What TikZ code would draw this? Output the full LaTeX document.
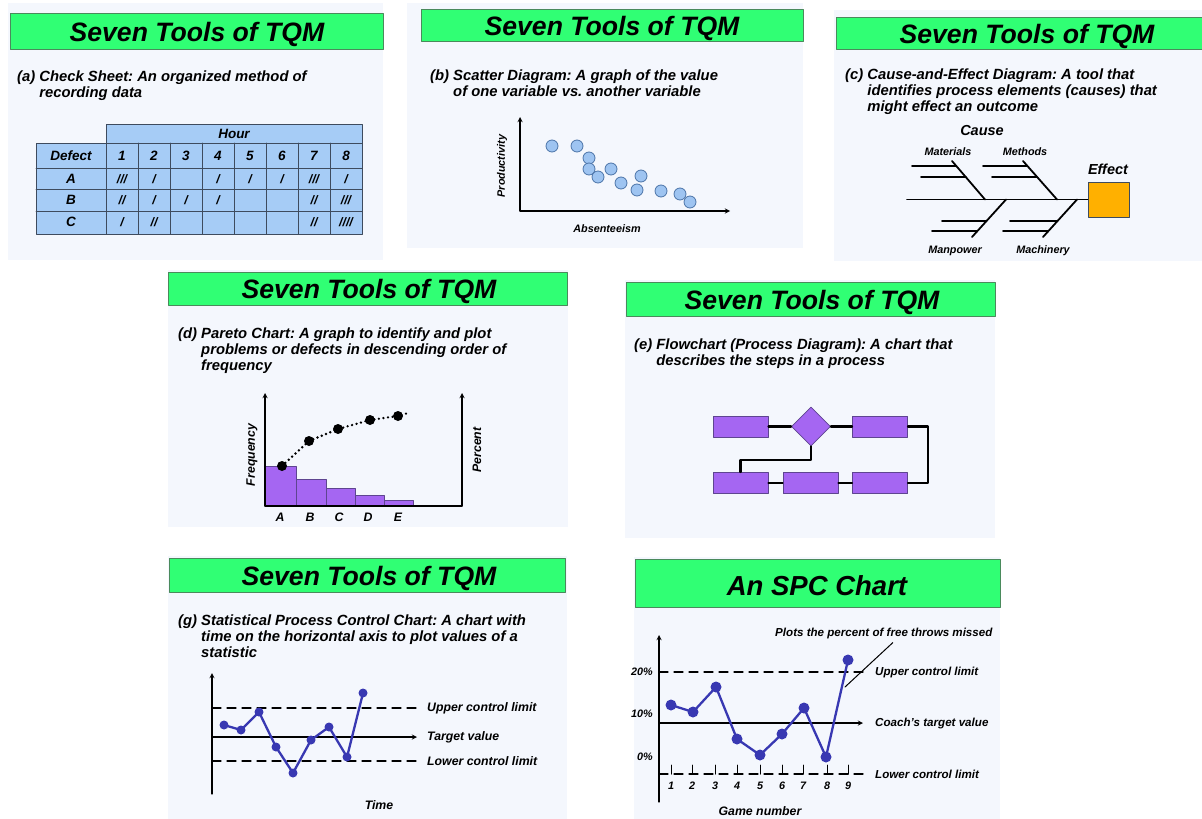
\documentclass[tikz,border=0pt]{standalone}
\usepackage{fontspec}
\setmainfont{Liberation Sans}
\usetikzlibrary{shapes.geometric}
\definecolor{tqmgreen}{HTML}{30FF74}
\definecolor{bargreen}{HTML}{4A8A5C}
\definecolor{panelbg}{HTML}{F4F7FD}
\definecolor{cellblue}{HTML}{A6CCF6}
\definecolor{gridgray}{HTML}{3E4B5E}
\definecolor{scatfill}{HTML}{9EC4F1}
\definecolor{scatedge}{HTML}{4C74A8}
\definecolor{effectorange}{HTML}{FFB000}
\definecolor{paretopurple}{HTML}{A566F2}
\definecolor{flowedge}{HTML}{5E4590}
\definecolor{spcblue}{HTML}{3838B2}
\frenchspacing
\begin{document}
\begin{tikzpicture}[x=1pt, y=-1pt, line join=round, line cap=round, >=stealth,
	panel/.style={fill=panelbg},
	bar/.style={fill=tqmgreen, draw=bargreen, line width=0.8pt},
	ttl/.style={font=\fontsize{26.6}{27}\selectfont\bfseries\itshape},
	desc/.style={font=\fontsize{14.8}{15.6}\selectfont\bfseries\itshape, align=left, anchor=north west, inner sep=0pt},
	lbl/.style={font=\fontsize{12.3}{13}\selectfont\bfseries\itshape, inner sep=0pt},
	small/.style={font=\fontsize{10.8}{12}\selectfont\bfseries\itshape, inner sep=0pt},
	side/.style={font=\fontsize{11.6}{12}\selectfont\bfseries\itshape, inner sep=0pt, anchor=west},
	cell/.style={font=\fontsize{13.5}{13.5}\selectfont\bfseries\itshape, inner sep=0pt},
	tbl/.style={draw=gridgray, line width=0.9pt},
	axis/.style={line width=1.3pt},
	lim/.style={line width=1.3pt, dash pattern=on 9pt off 6pt},
	bone/.style={line width=1.8pt},
	spc/.style={spcblue, line width=2.3pt},
	fbox/.style={draw=flowedge, fill=paretopurple, line width=0.8pt, minimum width=55pt, minimum height=21pt, inner sep=0pt},
	flow/.style={line width=2.1pt}]
	\useasboundingbox (0,0) rectangle (1202,819);
	% panel backgrounds
	\fill[panel] (8,3) rectangle (383,260);
	\fill[panel] (407,3) rectangle (803,248);
	\fill[panel] (834,10) rectangle (1202,261);
	\fill[panel] (168,270) rectangle (568,527);
	\fill[panel] (625,280) rectangle (995,538);
	\fill[panel] (168,556) rectangle (567,819);
	\fill[panel] (634,557) rectangle (1000,819);
	% title bars
	\draw[bar] (10,13) rectangle (383,49);
	\draw[bar] (421,9) rectangle (803,41);
	\draw[bar] (836,17) rectangle (1202,49);
	\draw[bar] (168,272) rectangle (567,305);
	\draw[bar] (626,282) rectangle (995,316);
	\draw[bar] (169,558) rectangle (565,592);
	\draw[bar] (635,559) rectangle (1000,607);
	\node[ttl] (ta) at (197,34) {Seven Tools of TQM};
	\node[ttl] (tb) at (612,28) {Seven Tools of TQM};
	\node[ttl] (tc) at (1027,36) {Seven Tools of TQM};
	\node[ttl] (td) at (369,291) {Seven Tools of TQM};
	\node[ttl] (te) at (812,302) {Seven Tools of TQM};
	\node[ttl] (tg) at (369,578) {Seven Tools of TQM};
	\node[ttl, font=\fontsize{27.5}{28}\selectfont\bfseries\itshape] (tspc) at (817,586) {An SPC Chart};
	% descriptions
	\node[desc] (da) at (17,71) {(a) Check Sheet: An organized method of\\\hphantom{(a) }recording data};
	\node[desc] (db) at (430,70) {(b) Scatter Diagram: A graph of the value\\\hphantom{(b) }of one variable vs. another variable};
	\node[desc] (dc) at (845,69) {(c) Cause-and-Effect Diagram: A tool that\\\hphantom{(c) }identifies process elements (causes) that\\\hphantom{(c) }might effect an outcome};
	\node[desc] (dd) at (178,328) {(d) Pareto Chart: A graph to identify and plot\\\hphantom{(d) }problems or defects in descending order of\\\hphantom{(d) }frequency};
	\node[desc] (de) at (634,339) {(e) Flowchart (Process Diagram): A chart that\\\hphantom{(e) }describes the steps in a process};
	\node[desc] (dg) at (178,615) {(g) Statistical Process Control Chart: A chart with\\\hphantom{(g) }time on the horizontal axis to plot values of a\\\hphantom{(g) }statistic};
	% (a) check sheet
	\fill[cellblue] (106,124) rectangle (362,143);
	\fill[cellblue] (36,143) rectangle (362,234);
	\draw[tbl] (106,143) -- (106,124) -- (362,124) -- (362,234) -- (36,234) -- (36,143) -- (362,143);
	\draw[tbl] (106,143) -- (106,234);
	\foreach \x in {138,170,...,330} \draw[tbl] (\x,143) -- (\x,234);
	\foreach \y in {168,189,211} \draw[tbl] (36,\y) -- (362,\y);
	\node[cell] (hour) at (234,134) {Hour};
	\node[cell] (defect) at (71,156) {Defect};
	\foreach \i in {1,...,8} \node[cell] (h\i) at (90+32*\i,156) {\i};
	\node[cell] (rowa) at (71,179) {A};
	\node[cell] (rowb) at (71,200) {B};
	\node[cell] (rowc) at (71,222) {C};
	\foreach \c/\t in {1/{///},2/{/},4/{/},5/{/},6/{/},7/{///},8/{/}} \node[lbl] (a\c) at (90+32*\c,179) {\t};
	\foreach \c/\t in {1/{//},2/{/},3/{/},4/{/},7/{//},8/{///}} \node[lbl] (b\c) at (90+32*\c,200) {\t};
	\foreach \c/\t in {1/{/},2/{//},7/{//},8/{////}} \node[lbl] (c\c) at (90+32*\c,222) {\t};
	% (b) scatter diagram
	\draw[axis,<->] (520,117) -- (520,211) -- (730,211);
	\foreach \x/\y in {552/146,577/146,589/158,589/169,598/177,611/169,621/183,641/176,637/190,661/191,680/194,690/202}
		\draw[fill=scatfill, draw=scatedge, line width=0.8pt] (\x,\y) circle[radius=6pt];
	\node[small, rotate=90] (prod) at (502,166) {Productivity};
	\node[small] (absent) at (607,229) {Absenteeism};
	% (c) cause-and-effect
	\node[draw=gridgray, fill=effectorange, line width=0.9pt, minimum width=41pt, minimum height=35pt] (effect) at (1108.5,199.5) {};
	\coordinate (tail) at (907,199.5);
	\draw[bone] (tail) -- (effect.west);
	\draw[bone] (952,161) -- (985,199.5);
	\draw[bone] (912,166) -- (956,166);
	\draw[bone] (921,177) -- (966,177);
	\draw[bone] (1023,161) -- (1057,199.5);
	\draw[bone] (983,166) -- (1027,166);
	\draw[bone] (992,177) -- (1037,177);
	\draw[bone] (1006,199.5) -- (972,237);
	\draw[bone] (942,221) -- (986,221);
	\draw[bone] (932,231) -- (977,231);
	\draw[bone] (1077,199.5) -- (1043,237);
	\draw[bone] (1010,221) -- (1057,221);
	\draw[bone] (1003,231) -- (1048,231);
	\node[cell, font=\fontsize{14.5}{14.5}\selectfont\bfseries\itshape] (cause) at (982,131) {Cause};
	\node[cell, font=\fontsize{14.5}{14.5}\selectfont\bfseries\itshape] (eff) at (1108,169) {Effect};
	\node[small] (materials) at (948,152) {Materials};
	\node[small] (methods) at (1025,152) {Methods};
	\node[small] (manpower) at (955,251) {Manpower};
	\node[small] (machinery) at (1043,251) {Machinery};
	% (d) pareto chart
	\foreach \a/\b/\t in {265/296/466,296/326/479,326/355/488,355/384/495,384/413/500}
		\draw[fill=paretopurple, draw=flowedge, line width=0.8pt] (\a,\t) rectangle (\b,506);
	\draw[axis,->] (265,506) -- (265,393);
	\draw[axis,->] (462,506) -- (462,393);
	\draw[axis] (265,506) -- (462,506);
	\draw[line width=2.6pt, dash pattern=on 0pt off 4.6pt] (282,466) -- (309,441) -- (338,429) -- (370,420) -- (398,416) -- (408,413);
	\foreach \x/\y in {282/466,309/441,338/429,370/420,398/416} \fill (\x,\y) circle[radius=5pt];
	\foreach \x/\t in {280/A,310/B,339/C,368/D,398/E} \node[lbl] (p\t) at (\x,517) {\t};
	\node[lbl, rotate=90] (freq) at (252,455) {Frequency};
	\node[lbl, rotate=90] (pct) at (477,450) {Percent};
	% (e) flowchart
	\node[fbox] (s1) at (740.5,426.5) {};
	\node[diamond, draw=flowedge, fill=paretopurple, line width=0.8pt, minimum width=39pt, minimum height=39pt, inner sep=0pt] (s2) at (811,426.5) {};
	\node[fbox] (s3) at (880,426.5) {};
	\node[fbox] (s4) at (740.5,483) {};
	\node[fbox] (s5) at (810.5,483) {};
	\node[fbox] (s6) at (880,483) {};
	\draw[flow] (s1) -- (s2);
	\draw[flow] (s2) -- (s3);
	\draw[flow] (s3.east) -- ++(20,0) |- (s6.east);
	\draw[flow] (s6) -- (s5);
	\draw[flow] (s5) -- (s4);
	\draw[flow] (s2.south) -- ++(0,14) -| (s4.north);
	% (g) control chart
	\draw[axis,->] (212,794) -- (212,673);
	\draw[axis,->] (212,737) -- (417,737);
	\draw[lim] (212,708) -- (417,708);
	\draw[lim] (212,761) -- (417,761);
	\draw[spc] (224,725) -- (241,730) -- (259,712) -- (276,747) -- (293,773) -- (311,740) -- (329,727) -- (347,757) -- (363,693);
	\foreach \x/\y in {224/725,241/730,259/712,276/747,293/773,311/740,329/727,347/757,363/693} \fill[spcblue] (\x,\y) circle[radius=4.5pt];
	\node[lbl, anchor=west] (ucl) at (427,708) {Upper control limit};
	\node[lbl, anchor=west] (tv) at (427,737) {Target value};
	\node[lbl, anchor=west] (lcl) at (427,761) {Lower control limit};
	\node[lbl] (time) at (379,805) {Time};
	% SPC chart
	\draw[axis,->] (659,802) -- (659,635);
	\draw[lim] (659,672) -- (863,672);
	\draw[axis,->] (659,723) -- (863,723);
	\draw[lim] (659,774) -- (863,774);
	\foreach \x [count=\n] in {671,692,715,737,760,782,803,827,848} {
		\draw[line width=1pt] (\x,765) -- (\x,774);
		\node[small] (g\n) at (\x,786) {\n};
	}
	\draw[spc] (671,705) -- (693,712) -- (716,687) -- (737,739) -- (760,755) -- (782,734) -- (804,708) -- (826,757) -- (848,660);
	\foreach \x/\y in {671/705,693/712,716/687,737/739,760/755,782/734,804/708,826/757,848/660} \fill[spcblue] (\x,\y) circle[radius=5.5pt];
	\node[small, anchor=east] (p20) at (653,672) {20\%};
	\node[small, anchor=east] (p10) at (653,714) {10\%};
	\node[small, anchor=east] (p0) at (653,757) {0\%};
	\node[side] (plots) at (775,633) {Plots the percent of free throws missed};
	\coordinate (ptr) at (845,687);
	\draw[line width=1pt] ([xshift=9pt, yshift=-4pt]plots.south) -- (ptr);
	\node[side] (ucl2) at (875,672) {Upper control limit};
	\node[side] (ctv) at (875,723) {Coach's target value};
	\node[side] (lcl2) at (875,774) {Lower control limit};
	\node[lbl] (game) at (760,811) {Game number};
\end{tikzpicture}
\end{document}
